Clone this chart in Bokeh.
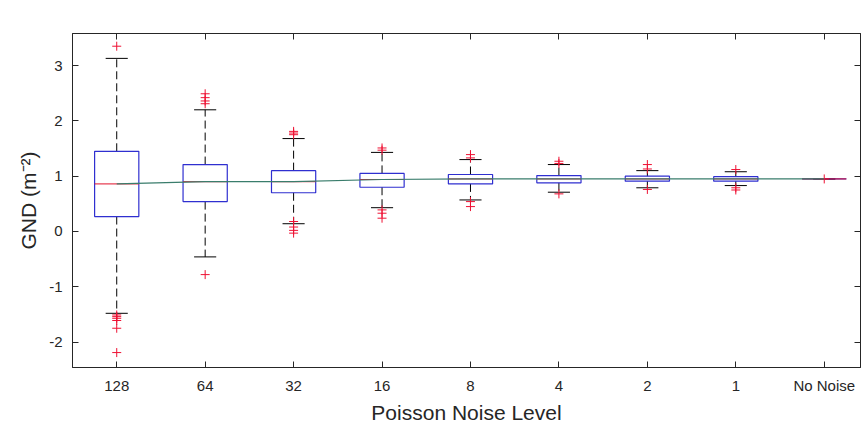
from bokeh.plotting import figure
from bokeh.models import Range1d, FixedTicker, LinearAxis, Label
from bokeh.embed import file_html
from bokeh.resources import INLINE

# ---- data (GND values in units of 1e14 m^-2) ----
levels = ["128", "64", "32", "16", "8", "4", "2", "1", "No Noise"]
q1 = [0.27, 0.54, 0.70, 0.80, 0.86, 0.88, 0.91, 0.91, 0.95]
median = [0.86, 0.90, 0.90, 0.94, 0.95, 0.95, 0.95, 0.95, 0.95]
q3 = [1.45, 1.21, 1.10, 1.05, 1.03, 1.01, 1.00, 0.99, 0.95]
whisker_low = [-1.48, -0.46, 0.14, 0.43, 0.57, 0.71, 0.79, 0.83, 0.95]
whisker_high = [3.13, 2.20, 1.68, 1.43, 1.30, 1.21, 1.10, 1.08, 0.95]
outlier_level = [1, 1, 1, 1, 1, 1, 1,
                 2, 2, 2, 2, 2,
                 3, 3, 3, 3, 3, 3, 3,
                 4, 4, 4, 4, 4,
                 5, 5, 5, 5,
                 6, 6, 6,
                 7, 7, 7,
                 8, 8, 8,
                 9]
outlier_value = [3.35, -1.51, -1.54, -1.57, -1.61, -1.75, -2.19,
                 2.49, 2.42, 2.36, 2.31, -0.78,
                 1.81, 1.78, 1.75, 0.18, 0.08, 0.02, -0.03,
                 1.51, 1.47, 0.39, 0.33, 0.24,
                 1.39, 1.33, 0.54, 0.45,
                 1.27, 1.23, 0.68,
                 1.21, 1.13, 0.76,
                 1.12, 0.79, 0.75,
                 0.95]
y_ticks = [-2, -1, 0, 1, 2, 3]

pos = list(range(1, len(levels) + 1))
box_w = 0.5
cap_w = 0.25

TXT = "#262626"
FONT = "Liberation Sans"

p = figure(width=861, height=426, output_backend="svg", toolbar_location=None,
           x_range=Range1d(0.5, 9.41), y_range=Range1d(-2.46, 3.58),
           min_border_left=72, min_border_right=1, min_border_top=33,
           min_border_bottom=59)
p.grid.visible = False
p.outline_line_color = TXT
p.outline_line_width = 1
p.background_fill_color = "white"
p.border_fill_color = "white"

# whiskers (dashed)
p.segment(x0=pos, y0=q3, x1=pos, y1=whisker_high, line_color="black",
          line_width=1, line_dash="8 4")
p.segment(x0=pos, y0=q1, x1=pos, y1=whisker_low, line_color="black",
          line_width=1, line_dash="8 4")
# caps
p.segment(x0=[x - cap_w / 2 for x in pos], y0=whisker_high,
          x1=[x + cap_w / 2 for x in pos], y1=whisker_high,
          line_color="black", line_width=1)
p.segment(x0=[x - cap_w / 2 for x in pos], y0=whisker_low,
          x1=[x + cap_w / 2 for x in pos], y1=whisker_low,
          line_color="black", line_width=1)
# boxes
p.vbar(x=pos, width=box_w, bottom=q1, top=q3, fill_alpha=0,
       line_color="#2f2fd0", line_width=1.2)
# medians
p.segment(x0=[x - box_w / 2 for x in pos], y0=median,
          x1=[x + box_w / 2 for x in pos], y1=median,
          line_color="#e0102a", line_width=1)
# outliers
p.scatter(x=outlier_level, y=outlier_value, marker="cross", size=9,
          line_color="#ee1133", line_width=1)
# line through medians
p.line(x=pos, y=median, line_color="#3a7d6c", line_width=1.2)

# axes styling
for ax in [p.xaxis[0], p.yaxis[0]]:
    ax.major_tick_in = 6
    ax.major_tick_out = 0
    ax.minor_tick_line_color = None
    ax.axis_line_color = TXT
    ax.major_tick_line_color = TXT
    ax.major_label_text_font = FONT
    ax.major_label_text_font_size = "15px"
    ax.major_label_text_color = TXT
    ax.axis_label_text_font = FONT
    ax.axis_label_text_font_size = "21px"
    ax.axis_label_text_font_style = "normal"
    ax.axis_label_text_color = TXT

p.xaxis[0].ticker = FixedTicker(ticks=pos)
p.xaxis[0].major_label_overrides = {x: lab for x, lab in zip(pos, levels)}
p.xaxis[0].major_label_standoff = 9
p.xaxis[0].axis_label = "Poisson Noise Level"
p.xaxis[0].axis_label_standoff = 4

p.yaxis[0].ticker = FixedTicker(ticks=y_ticks)
p.yaxis[0].major_label_overrides = {t: str(t) for t in y_ticks}
p.yaxis[0].major_label_standoff = 10
p.yaxis[0].axis_label = "GND (m\u207b\u00b2)"
p.yaxis[0].axis_label_standoff = 6

# box ticks on top and right (no labels)
top_ax = LinearAxis(ticker=FixedTicker(ticks=pos), major_tick_in=6,
                    major_tick_out=0, minor_tick_line_color=None,
                    major_label_text_color=None, major_label_text_font_size="1px",
                    major_label_standoff=0,
                    axis_line_color=TXT, major_tick_line_color=TXT)
right_ax = LinearAxis(ticker=FixedTicker(ticks=y_ticks), major_tick_in=6,
                      major_tick_out=0, minor_tick_line_color=None,
                      major_label_text_color=None, major_label_text_font_size="1px",
                      major_label_standoff=0,
                      axis_line_color=TXT, major_tick_line_color=TXT)
p.add_layout(top_ax, "above")
p.add_layout(right_ax, "right")

p.add_layout(Label(x=0.5, y=3.58, x_offset=1, y_offset=3, text="\u00d710\u00b9\u2074",
                   text_font=FONT, text_font_size="13px", text_color=TXT,
                   text_baseline="bottom", text_align="left"))

open("out.html", "w").write(file_html(p, INLINE))
